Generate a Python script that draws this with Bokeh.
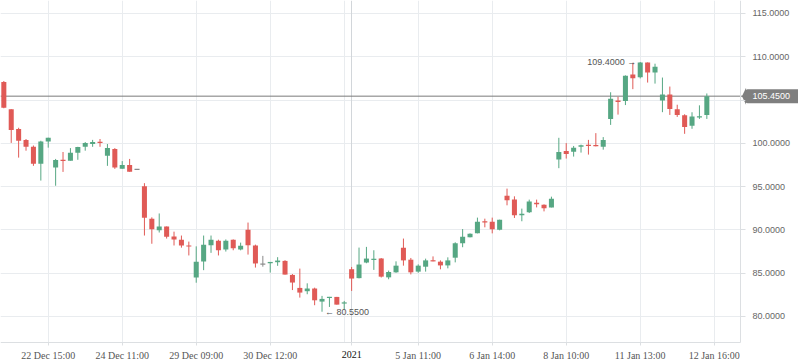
from bokeh.plotting import figure
from bokeh.models import FixedTicker, Span, Label, Range1d, NumeralTickFormatter, Grid
from bokeh.embed import file_html
from bokeh.resources import INLINE

# ---- data ----
opens = [107.1, 103.95, 101.65, 100.4, 99.6, 97.65, 100.2, 97.2, 98.05, 98.0,
         98.9, 99.6, 99.92, 100.12, 98.57, 99.35, 97.07, 97.5, 97.0, 95.05,
         91.3, 89.95, 90.4, 89.25, 88.87, 88.16, 84.5, 86.35, 88.22, 88.75,
         87.75, 88.87, 87.75, 90.03, 88.2, 86.05, 86.15, 86.27, 86.42, 84.8,
         83.3, 82.92, 83.23, 81.72, 82.15, 82.26, 81.5, 85.46, 84.43, 86.23,
         86.55, 86.7, 84.52, 85.1, 87.95, 86.56, 85.18, 85.75, 86.48, 86.33,
         85.9, 86.79, 88.45, 89.14, 89.6, 90.95, 90.95, 90.03, 93.96, 93.5,
         91.68, 92.03, 93.15, 92.92, 92.6, 98.12, 99.12, 99.04, 99.6, 99.78,
         99.75, 99.62, 102.82, 104.96, 104.88, 107.94, 107.63, 109.35, 108.17, 104.96,
         105.65, 103.93, 103.24, 102.02, 103.0, 103.28]
highs = [107.2, 103.95, 101.8, 100.5, 99.75, 100.3, 100.65, 98.2, 99.0, 99.45,
         99.6, 100.15, 100.4, 100.5, 99.92, 99.45, 97.95, 98.2, 97.0, 95.4,
         91.45, 91.9, 90.4, 89.8, 89.35, 88.65, 88.1, 89.35, 89.35, 88.87,
         88.9, 88.9, 88.53, 90.85, 88.3, 87.0, 86.3, 86.85, 86.5, 84.9,
         85.53, 83.83, 83.33, 82.38, 82.26, 82.26, 81.8, 85.72, 87.96, 88.04,
         87.65, 86.75, 85.3, 86.37, 89.0, 86.76, 86.02, 86.68, 86.94, 86.48,
         86.83, 88.57, 90.1, 89.6, 91.42, 91.3, 91.42, 91.18, 94.77, 93.88,
         92.46, 93.5, 93.5, 92.95, 93.84, 100.64, 100.03, 99.7, 99.85, 100.4,
         101.18, 100.72, 105.9, 105.38, 107.85, 109.3, 109.4, 109.35, 109.2, 107.6,
         106.56, 104.46, 103.36, 103.59, 104.39, 105.76]
lows = [104.05, 100.05, 98.35, 99.15, 97.4, 95.7, 99.5, 95.1, 96.7, 98.0,
        98.1, 99.15, 99.6, 99.6, 97.4, 97.05, 97.07, 96.72, 97.0, 89.35,
        88.4, 89.7, 89.0, 88.2, 87.95, 87.05, 83.9, 85.35, 87.35, 87.05,
        87.5, 87.65, 87.64, 87.15, 85.65, 85.75, 85.07, 85.85, 84.84, 83.05,
        82.18, 82.57, 81.3, 80.55, 81.1, 81.37, 80.85, 82.95, 84.4, 86.15,
        85.38, 84.5, 84.3, 85.05, 85.87, 84.86, 85.05, 85.18, 86.37, 85.45,
        85.56, 86.25, 88.0, 89.14, 89.6, 90.3, 89.6, 89.95, 92.84, 91.38,
        91.0, 91.95, 92.6, 92.14, 92.6, 97.13, 98.24, 98.47, 98.93, 98.7,
        99.65, 99.27, 102.13, 103.32, 104.42, 106.26, 107.5, 107.02, 106.9, 103.6,
        103.28, 103.05, 101.1, 101.68, 102.82, 102.82]
closes = [104.1, 101.55, 100.3, 99.6, 97.65, 100.2, 100.65, 98.07, 98.0, 98.9,
          99.57, 100.05, 100.15, 100.08, 99.46, 97.2, 97.5, 96.72, 97.0, 91.4,
          90.07, 90.4, 89.2, 88.9, 88.2, 88.12, 86.33, 88.3, 88.87, 87.65,
          88.75, 87.87, 88.18, 88.22, 86.13, 86.05, 86.3, 86.46, 84.84, 83.92,
          82.76, 83.23, 81.87, 82.03, 82.26, 81.37, 81.62, 84.38, 86.0, 86.69,
          86.65, 84.6, 85.14, 85.87, 86.48, 85.1, 85.87, 86.48, 86.38, 85.9,
          86.48, 88.45, 89.22, 89.57, 90.95, 90.9, 90.07, 91.18, 93.42, 91.68,
          91.88, 93.27, 92.95, 92.49, 93.61, 99.0, 98.78, 99.5, 99.77, 99.75,
          99.72, 100.38, 105.15, 104.77, 107.82, 107.51, 109.35, 108.17, 108.85, 105.65,
          103.96, 103.28, 101.9, 103.09, 103.1, 105.45]

tick_positions = [6, 16, 26, 36, 47, 56, 66, 76, 86, 96]
tick_labels = ["22 Dec 15:00", "24 Dec 11:00", "29 Dec 09:00", "30 Dec 12:00", "2021",
               "5 Jan 11:00", "6 Jan 14:00", "8 Jan 10:00", "11 Jan 13:00", "12 Jan 16:00"]
grid_positions = [6, 16, 26, 36, 46, 56, 66, 76, 86, 96]
year_start = 47
year_label = "2021"
y_ticks = [80, 85, 90, 95, 100, 105, 110, 115]
last_price = 105.45
max_point = (86, 109.4)
min_point = (43, 80.55)

# ---- geometry / styling ----
GREEN = "#56a783"
RED = "#e05a56"
GREY = "#8a8a8a"
GRID = "#e9ecef"
AXIS = "#dcdfe2"
TAG = "#7f7f7f"

W, H = 798, 363
PX_X = 7.4            # pixels per candle slot
PX_Y = 8.657          # pixels per price unit
X0 = -0.45            # left edge of the candle area
X_AX = X0 + 740 / PX_X          # price axis location (right border of candle area)
X1 = X0 + W / PX_X
Y_TOP = 116.5
Y_AX = Y_TOP - 342 / PX_Y       # time axis location
Y0 = Y_TOP - H / PX_Y

have_cross = "cross_bounds" in Grid.properties()

n = len(opens)
idx = list(range(n))
colors, tops, bottoms = [], [], []
for o, c in zip(opens, closes):
    colors.append(GREEN if c > o else (RED if c < o else GREY))
    t, b = max(o, c), min(o, c)
    if t - b < 0.14:
        m = (t + b) / 2
        t, b = m + 0.07, m - 0.07
    tops.append(t)
    bottoms.append(b)

p = figure(width=W, height=H, output_backend="svg", toolbar_location=None,
           x_range=Range1d(X0, X1), y_range=Range1d(Y0 if have_cross else Y_AX, Y_TOP),
           y_axis_location="right",
           min_border_left=0, min_border_top=0, min_border_right=0, min_border_bottom=0)
p.outline_line_color = None
p.background_fill_color = "white"
p.border_fill_color = "white"

p.xgrid.ticker = FixedTicker(ticks=grid_positions)
p.ygrid.ticker = FixedTicker(ticks=y_ticks)
p.xgrid.grid_line_color = GRID
p.ygrid.grid_line_color = GRID
if have_cross:
    p.ygrid.cross_bounds = (X0, X_AX)
    p.xgrid.cross_bounds = (Y_AX, Y_TOP)
    year_grid = Grid(dimension=0, ticker=FixedTicker(ticks=[year_start]),
                     grid_line_color="#d2d6da", cross_bounds=(Y_AX, Y_TOP))
    p.add_layout(year_grid)
else:
    p.add_layout(Span(location=year_start, dimension="height", line_color="#d2d6da",
                      line_width=1, level="underlay"))

# time axis
xa = p.xaxis[0]
xa.ticker = FixedTicker(ticks=tick_positions)
xa.major_label_overrides = {pos: (lab if (pos != year_start or not have_cross) else "")
                            for pos, lab in zip(tick_positions, tick_labels)}
xa.major_label_text_font = "Liberation Serif"
xa.major_label_text_font_size = "10px"
xa.major_label_text_color = "#555555"
xa.axis_line_color = AXIS
xa.major_tick_line_color = AXIS
xa.major_tick_in = 0
xa.major_tick_out = 3
xa.minor_tick_line_color = None
xa.major_label_standoff = 4
xa.bounds = (X0, X_AX)
if have_cross:
    xa.fixed_location = Y_AX

# price axis
ya = p.yaxis[0]
ya.ticker = FixedTicker(ticks=y_ticks)
ya.formatter = NumeralTickFormatter(format="0.0000")
ya.major_label_text_font = "Liberation Sans"
ya.major_label_text_font_size = "9px"
ya.major_label_text_color = "#666666"
ya.axis_line_color = AXIS
ya.major_tick_line_color = AXIS
ya.major_tick_in = 0
ya.major_tick_out = 5
ya.minor_tick_line_color = None
ya.major_label_standoff = 7
ya.bounds = (Y_AX, Y_TOP)
ya.fixed_location = X_AX

# current price line
p.add_layout(Span(location=last_price, dimension="width", line_color="#7a7a7a",
                  line_width=1, level="underlay"))

# candles
p.segment(x0=idx, y0=lows, x1=idx, y1=highs, line_color=colors, line_width=1)
p.vbar(x=idx, width=0.68, top=tops, bottom=bottoms, fill_color=colors, line_color=None)

# extreme markers
p.add_layout(Label(x=max_point[0], y=max_point[1], text="%.4f \u2192" % max_point[1],
                   text_align="right", text_baseline="middle", x_offset=-4,
                   text_font="Liberation Sans", text_font_size="9px", text_color="#555555"))
p.add_layout(Label(x=min_point[0], y=min_point[1], text="\u2190 %.4f" % min_point[1],
                   text_align="left", text_baseline="middle", x_offset=3,
                   text_font="Liberation Sans", text_font_size="9px", text_color="#555555"))

# current-price tag with a pointed left edge
h = 8.5 / PX_Y
p.patch(x=[X_AX + 0.2, X_AX + 0.75, X_AX + 0.75], y=[last_price, last_price + h, last_price - h],
        fill_color=TAG, line_color=None)
p.add_layout(Label(x=X_AX, y=last_price, text="%.4f" % last_price, x_offset=5,
                   text_align="left", text_baseline="middle",
                   text_font="Liberation Sans", text_font_size="9px", text_color="white",
                   background_fill_color=TAG, border_radius=2,
                   padding=dict(left=7, right=20, top=4, bottom=4)))

if have_cross:
    p.add_layout(Label(x=year_start, y=Y_AX, y_offset=-12, text=year_label,
                       text_align="center", text_baseline="middle",
                       text_font="Liberation Serif", text_font_size="10px",
                       text_color="#111111"))

open("out.html", "w").write(file_html(p, INLINE))
